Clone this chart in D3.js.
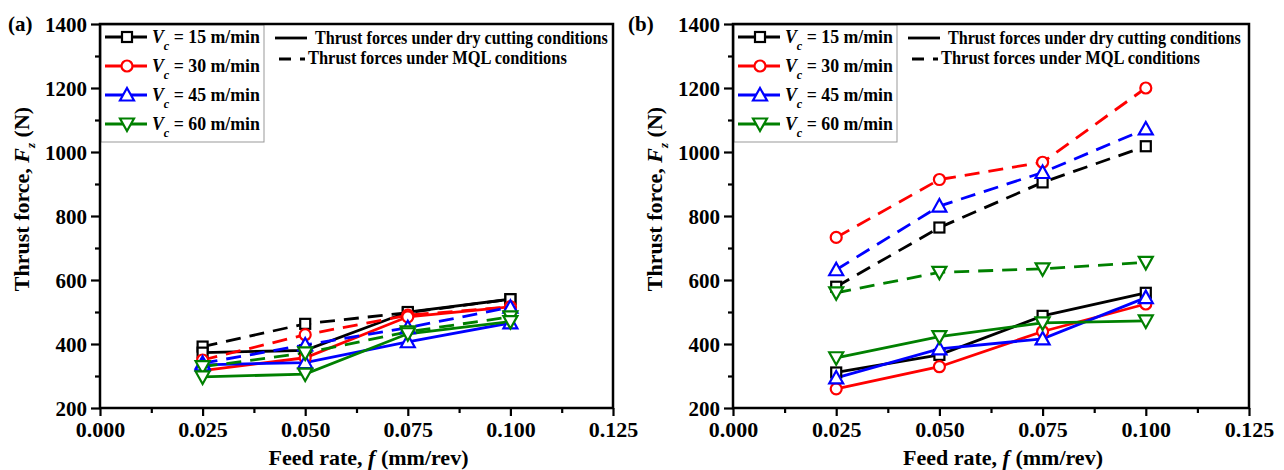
<!DOCTYPE html>
<html>
<head>
<meta charset="utf-8">
<script src="https://cdnjs.cloudflare.com/ajax/libs/d3/7.8.5/d3.min.js"></script>
<style>
  body { margin: 0; background: #fff; }
  text { font-family: "Liberation Serif", "Times New Roman", serif; font-weight: bold; }
</style>
</head>
<body>
<svg id="mainsvg" width="1284" height="470"></svg>
<script>
// feed rates and cutting speeds
const feed = [0.025, 0.050, 0.075, 0.100];
const speeds = [15, 30, 45, 60];
const colors = ['#000000', '#ff0000', '#0000ff', '#008000'];
const symbols = ['square', 'circle', 'triangle', 'triangleDown'];

// (a) thrust forces, one row per Vc
const dryA = [[373, 380, 500, 540],
              [317, 357, 485, 516],
              [335, 342, 407, 466],
              [297, 306, 432, 470]];
const mqlA = [[392, 463, 498, 540],
              [350, 429, 490, 516],
              [340, 397, 451, 515],
              [329, 372, 438, 485]];
// (b)
const dryB = [[311, 366, 488, 560],
              [260, 329, 439, 525],
              [294, 385, 416, 545],
              [357, 423, 466, 472]];
const mqlB = [[579, 764, 905, 1018],
              [733, 914, 968, 1200],
              [632, 831, 936, 1072],
              [560, 624, 635, 655]];

const xTicks = [0, 0.025, 0.05, 0.075, 0.1, 0.125];
const yTicks = [200, 400, 600, 800, 1000, 1200, 1400];

var svg = d3.select('#mainsvg');

function marker(sel, type, color, s) {
  if (type == 'square') {
    sel.append('rect').attr('x', -s + 1).attr('y', -s + 1).attr('width', 2 * s - 2).attr('height', 2 * s - 2)
      .attr('fill', 'white').attr('stroke', color).attr('stroke-width', 2.2);
  } else if (type == 'circle') {
    sel.append('circle').attr('r', s - 0.5).attr('fill', 'white').attr('stroke', color).attr('stroke-width', 2.2);
  } else if (type == 'triangle') {
    sel.append('path').attr('d', 'M0,' + (-s - 1) + 'L' + (s + 1) + ',' + (s - 0.5) + 'L' + (-s - 1) + ',' + (s - 0.5) + 'Z')
      .attr('fill', 'white').attr('stroke', color).attr('stroke-width', 2.2);
  } else {
    sel.append('path').attr('d', 'M0,' + (s + 1) + 'L' + (s + 1) + ',' + (-s + 0.5) + 'L' + (-s - 1) + ',' + (-s + 0.5) + 'Z')
      .attr('fill', 'white').attr('stroke', color).attr('stroke-width', 2.2);
  }
}

// squeeze a text horizontally to a given width (reference font is narrow)
function squeeze(t, px, py, width) {
  var w = t.node().getComputedTextLength();
  var k = Math.min(1, width / w);
  t.attr('x', 0).attr('y', 0).attr('transform', 'translate(' + px + ',' + py + ') scale(' + k + ',1)');
}

function drawPanel(x0, x1, label, labelX, dry, mql) {
  var top = 24, bottom = 408;
  var x = d3.scaleLinear().domain([0, 0.125]).range([x0, x1]);
  var y = d3.scaleLinear().domain([200, 1400]).range([bottom, top]);
  var g = svg.append('g');

  // axes
  var xAxis = d3.axisBottom(x).tickValues(xTicks).tickFormat(d3.format('.3f')).tickSize(8).tickSizeOuter(0);
  var gx = g.append('g').attr('transform', 'translate(0,' + bottom + ')').call(xAxis);
  var gxm = g.append('g').attr('transform', 'translate(0,' + bottom + ')')
    .call(d3.axisBottom(x).tickValues(d3.range(0.0125, 0.125, 0.025)).tickFormat('').tickSize(5).tickSizeOuter(0));
  var yAxis = d3.axisLeft(y).tickValues(yTicks).tickFormat(d3.format('d')).tickSize(9).tickSizeOuter(0);
  var gy = g.append('g').attr('transform', 'translate(' + x0 + ',0)').call(yAxis);
  var gym = g.append('g').attr('transform', 'translate(' + x0 + ',0)')
    .call(d3.axisLeft(y).tickValues(d3.range(300, 1400, 200)).tickFormat('').tickSize(5).tickSizeOuter(0));
  [gx, gxm, gy, gym].forEach(function (a) {
    a.select('.domain').remove();
    a.selectAll('line').attr('stroke', 'black').attr('stroke-width', 2.2);
  });
  gx.selectAll('text').attr('font-size', 22).attr('y', 29).attr('dy', 0)
    .attr('font-family', 'Liberation Serif').attr('font-weight', 'bold').attr('fill', 'black');
  gy.selectAll('text').attr('font-size', 21).attr('dy', '0.35em').attr('x', -13)
    .attr('font-family', 'Liberation Serif').attr('font-weight', 'bold').attr('fill', 'black');

  // titles
  var xt = g.append('text').attr('x', (x0 + x1) / 2 + 12).attr('y', 465).attr('text-anchor', 'middle').attr('font-size', 22);
  xt.append('tspan').text('Feed rate, ');
  xt.append('tspan').attr('font-style', 'italic').text('f');
  xt.append('tspan').text(' (mm/rev)');

  var yt = g.append('text').attr('transform', 'translate(' + (x0 - 71) + ',' + 199 + ') rotate(-90)')
    .attr('text-anchor', 'middle').attr('font-size', 22);
  yt.append('tspan').text('Thrust force, ');
  yt.append('tspan').attr('font-style', 'italic').text('F');
  yt.append('tspan').attr('font-size', 13).attr('font-style', 'italic').attr('dy', 6).text('z');
  yt.append('tspan').attr('dy', -6).text(' (N)');

  g.append('text').attr('x', labelX).attr('y', 31).attr('font-size', 21).text(label);

  // lines
  var line = d3.line().x((d, i) => x(feed[i])).y(d => y(d));
  speeds.forEach(function (v, k) {
    g.append('path').datum(mql[k]).attr('d', line).attr('fill', 'none')
      .attr('stroke', colors[k]).attr('stroke-width', 2.8).attr('stroke-dasharray', '15,9');
    g.append('path').datum(dry[k]).attr('d', line).attr('fill', 'none')
      .attr('stroke', colors[k]).attr('stroke-width', 2.8);
  });
  speeds.forEach(function (v, k) {
    [mql[k], dry[k]].forEach(function (arr) {
      g.selectAll(null).data(arr).enter().append('g')
        .attr('transform', (d, i) => 'translate(' + x(feed[i]) + ',' + y(d) + ')')
        .each(function () { marker(d3.select(this), symbols[k], colors[k], 6); });
    });
  });

  // legend
  var lg = g.append('g');
  lg.append('rect').attr('x', x0 + 1).attr('y', top + 1).attr('width', 163).attr('height', 117)
    .attr('fill', 'white').attr('stroke', '#999').attr('stroke-width', 1);
  speeds.forEach(function (v, k) {
    var ry = top + 13 + k * 29;
    lg.append('line').attr('x1', x0 + 5).attr('x2', x0 + 47).attr('y1', ry).attr('y2', ry)
      .attr('stroke', colors[k]).attr('stroke-width', 2.8);
    var m = lg.append('g').attr('transform', 'translate(' + (x0 + 27) + ',' + ry + ')');
    marker(m, symbols[k], colors[k], 6);
    var t = lg.append('text').attr('font-size', 19);
    t.append('tspan').attr('font-style', 'italic').text('V');
    t.append('tspan').attr('font-style', 'italic').attr('font-size', 13).attr('dy', 7).text('c');
    t.append('tspan').attr('dy', -7).text(' = ' + v + ' m/min');
    squeeze(t, x0 + 52, ry + 6, 108);
  });
  lg.append('line').attr('x1', x0 + 175).attr('x2', x0 + 207).attr('y1', 38).attr('y2', 38)
    .attr('stroke', 'black').attr('stroke-width', 2.8);
  var t1 = lg.append('text').attr('font-size', 18).text('Thrust forces under dry cutting conditions');
  squeeze(t1, x0 + 215, 44, 293);
  lg.append('line').attr('x1', x0 + 179).attr('x2', x0 + 205).attr('y1', 59).attr('y2', 59)
    .attr('stroke', 'black').attr('stroke-width', 2.8).attr('stroke-dasharray', '12,9,5,20');
  var t2 = lg.append('text').attr('font-size', 18).text('Thrust forces under MQL conditions');
  squeeze(t2, x0 + 208, 64, 259);

  // frame
  g.append('rect').attr('x', x0).attr('y', top).attr('width', x1 - x0).attr('height', bottom - top)
    .attr('fill', 'none').attr('stroke', 'black').attr('stroke-width', 2.5);
}

drawPanel(100, 613, '(a)', 8, dryA, mqlA);
drawPanel(733, 1249, '(b)', 628, dryB, mqlB);
</script>
</body>
</html>
